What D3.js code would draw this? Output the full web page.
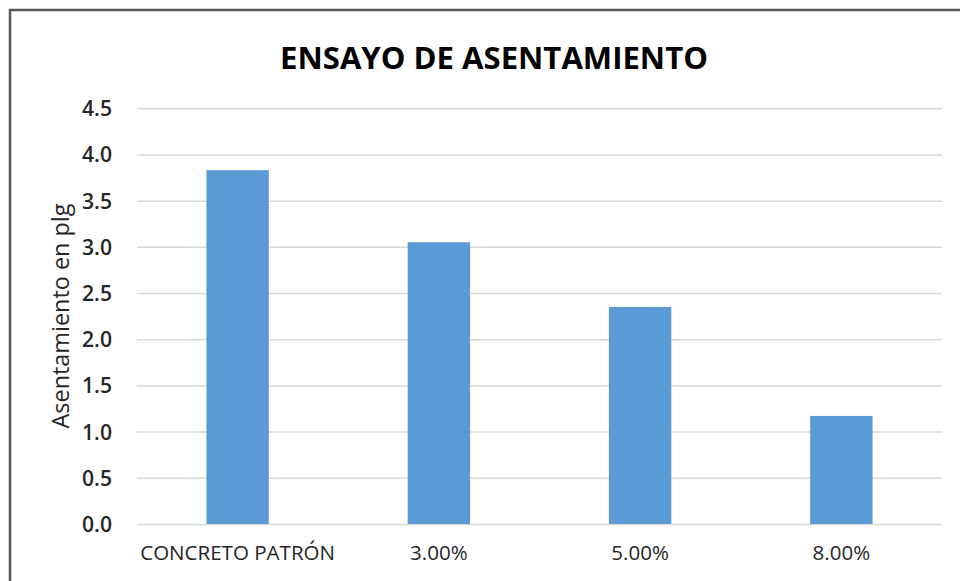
<!DOCTYPE html>
<html><head><meta charset="utf-8">
<script src="https://cdn.jsdelivr.net/npm/d3@7"></script>
<style>body{margin:0;background:#fff}svg{display:block}text{font-family:"Open Sans",sans-serif}</style>
</head><body><svg id="c" width="960" height="581"></svg>
<script>
const categories = ["CONCRETO PATRÓN", "3.00%", "5.00%", "8.00%"];
const values = [3.83, 3.05, 2.35, 1.17];
const yTicks = [0, 0.5, 1.0, 1.5, 2.0, 2.5, 3.0, 3.5, 4.0, 4.5];
const title = "ENSAYO DE ASENTAMIENTO";
const yLabel = "Asentamiento en plg";

const svg = d3.select("#c");
svg.append("rect").attr("x", 10).attr("y", 10).attr("width", 960).attr("height", 600)
  .attr("fill", "#fff").attr("stroke", "#555").attr("stroke-width", 2.5);

const m = {left: 137, right: 942, top: 108.3, bottom: 524};
const x = d3.scaleBand().domain(categories).range([m.left, m.right]).paddingInner(0.69).paddingOuter(0.345);
const y = d3.scaleLinear().domain([0, 4.5]).range([m.bottom, m.top]);

function fit(sel, base, target) {
  sel.attr("font-size", base);
  const w = sel.node().getComputedTextLength();
  return base * target / w;
}

const yAxis = svg.append("g").attr("transform", `translate(${m.left},0)`)
  .call(d3.axisLeft(y).tickValues(yTicks).tickFormat(d3.format(".1f")).tickSize(-(m.right - m.left)).tickPadding(25));
yAxis.select(".domain").remove();
yAxis.selectAll(".tick line").attr("stroke", "#d9d9d9").attr("stroke-width", 1.5);
const yt = yAxis.selectAll(".tick text").attr("fill", "#262626").attr("dy", "0.35em").attr("font-weight", 600);
const ys = fit(yAxis.select(".tick:last-of-type text"), 17, 30);
yt.attr("font-size", ys);

svg.append("g").selectAll("rect").data(values).join("rect")
  .attr("x", (d, i) => x(categories[i])).attr("width", x.bandwidth())
  .attr("y", d => y(d)).attr("height", d => y(0) - y(d)).attr("fill", "#5b9bd5");

const xAxis = svg.append("g").attr("transform", `translate(0,${m.bottom})`)
  .call(d3.axisBottom(x).tickSize(0).tickPadding(21));
xAxis.select(".domain").remove();
const xt = xAxis.selectAll(".tick text").attr("fill", "#262626").attr("font-weight", 500);
const xs = fit(xAxis.select(".tick text"), 17, 195);
xt.attr("font-size", xs);

const t = svg.append("text").attr("x", 494).attr("y", 69).attr("text-anchor", "middle")
  .attr("font-weight", "bold").attr("font-size", 30).attr("fill", "#000").text(title);
t.attr("font-size", fit(t, 30, 428));

const yl = svg.append("text").attr("transform", "translate(69,316) rotate(-90)").attr("text-anchor", "middle")
  .attr("fill", "#262626").text(yLabel);
yl.attr("font-size", fit(yl, 20, 225));
</script></body></html>
